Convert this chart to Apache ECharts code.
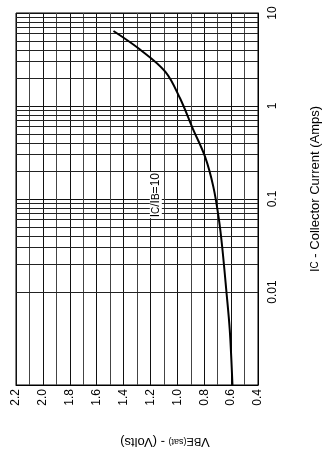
<!DOCTYPE html>
<html>
<head>
<meta charset="utf-8">
<script src="https://cdn.jsdelivr.net/npm/echarts@6/dist/echarts.min.js"></script>
<style>
  html, body { margin: 0; padding: 0; background: #fff; }
  #chart { width: 325px; height: 457px; }
</style>
</head>
<body>
<div id="chart"></div>
<script>
// VBE(sat) (Volts), paired with Ic (Amps)
var vbeSat = [1.475, 1.28, 1.09, 0.98, 0.886, 0.794, 0.732, 0.69, 0.664, 0.636, 0.61, 0.59];
var icAmps = [6.4, 4.07, 2.34, 1.21, 0.575, 0.285, 0.135, 0.0594, 0.0283, 0.0105, 0.0039, 0.001];

// log grid: decades and the 2..9 lines inside each one
var decades = [0.001, 0.01, 0.1, 1];
var gridSteps = [2, 3, 4, 5, 6, 7, 8, 9];
var icGrid = [];
decades.forEach(function (d) {
  gridSteps.forEach(function (m) { icGrid.push(+(d * m).toPrecision(2)); });
});

var curve = vbeSat.map(function (v, i) { return [v, icAmps[i]]; });

var font = 'Liberation Sans, Arial, sans-serif';
var chart = echarts.init(document.getElementById('chart'));

chart.setOption({
  animation: false,
  grid: {
    left: 16, top: 13, right: 67, bottom: 72,
    outerBoundsMode: 'none',
    containLabel: false,
    show: true, borderColor: '#000', borderWidth: 1
  },
  xAxis: {
    type: 'value',
    min: 0.4, max: 2.2, interval: 0.2,
    inverse: true,
    axisLine: { show: true, lineStyle: { color: '#000' } },
    axisTick: { show: false },
    axisLabel: {
      rotate: 90, margin: 4, color: '#000', fontSize: 12, fontFamily: font,
      formatter: function (v) { return v.toFixed(1); }
    },
    splitLine: { show: true, lineStyle: { color: '#111', width: 1 } },
    minorTick: { show: false, splitNumber: 2 },
    minorSplitLine: { show: true, lineStyle: { color: '#444', width: 1 } },
    name: '{a|V}{b|BE}{c|(sat)}{a| - (Volts)}',
    nameLocation: 'middle',
    nameRotate: 180,
    nameGap: 50,
    nameTextStyle: {
      padding: [0, 56, 0, 0],
      rich: {
        a: { fontSize: 13, fontFamily: font, color: '#000' },
        b: { fontSize: 11, fontFamily: font, color: '#000' },
        c: { fontSize: 9, fontFamily: font, color: '#000' }
      }
    }
  },
  yAxis: {
    type: 'log',
    logBase: 10,
    min: 0.001, max: 10,
    position: 'right',
    axisLine: { show: true, lineStyle: { color: '#000' } },
    axisTick: { show: false },
    axisLabel: {
      rotate: 90, margin: 9, color: '#000', fontSize: 12, fontFamily: font,
      formatter: function (v) { return v >= 0.005 ? String(+v.toPrecision(1)) : ''; }
    },
    splitLine: { show: true, lineStyle: { color: '#111', width: 1 } },
    name: '{a|I}{b|C}{a| - Collector Current (Amps)}',
    nameLocation: 'middle',
    nameRotate: 90,
    nameGap: 51,
    nameTextStyle: {
      padding: [0, 0, 0, 20],
      rich: {
        a: { fontSize: 13, fontFamily: font, color: '#000' },
        b: { fontSize: 10, fontFamily: font, color: '#000' }
      }
    }
  },
  series: [{
    type: 'line',
    data: curve,
    smooth: 0.35,
    symbol: 'none',
    lineStyle: { color: '#000', width: 2 },
    z: 5,
    markLine: {
      silent: true,
      symbol: ['none', 'none'],
      label: { show: false },
      lineStyle: { color: '#222', width: 1, type: 'solid' },
      data: icGrid.map(function (v) { return { yAxis: v }; }),
      z: 1
    },
    markPoint: {
      silent: true,
      symbol: 'rect',
      symbolSize: 0,
      data: [{ coord: [1.16, 0.11] }],
      label: {
        show: true,
        position: 'inside',
        rotate: 90,
        formatter: '{a|I}{b|C}{a|/I}{b|B}{a|=10}',
        backgroundColor: '#fff',
        padding: [0, 1, 0, 1],
        rich: {
          a: { fontSize: 12, fontFamily: font, color: '#000' },
          b: { fontSize: 10, fontFamily: font, color: '#000' }
        }
      }
    }
  }]
});
</script>
</body>
</html>
